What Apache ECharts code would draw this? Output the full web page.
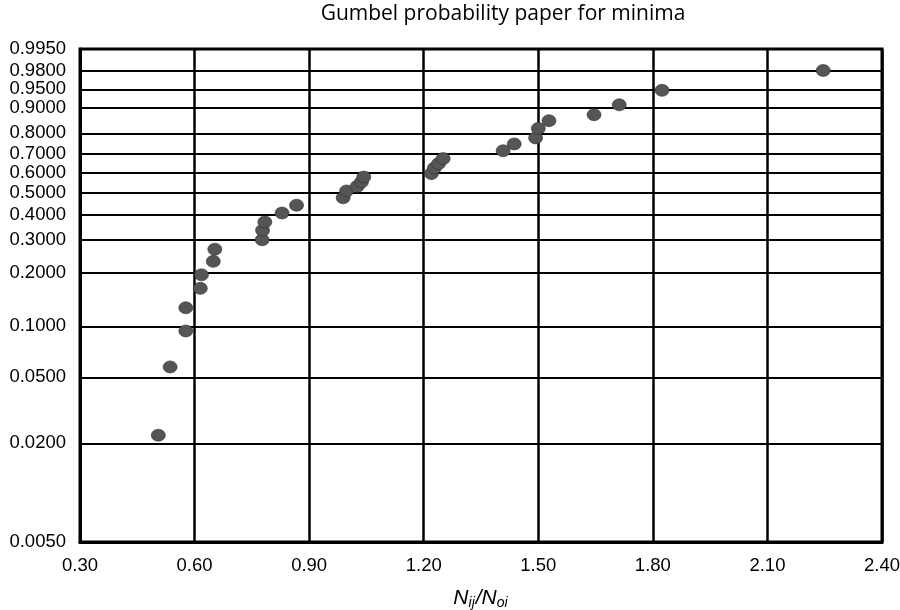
<!DOCTYPE html>
<html>
<head>
<meta charset="utf-8">
<script src="https://cdn.jsdelivr.net/npm/echarts@6/dist/echarts.min.js"></script>
<style>
  html, body { margin: 0; padding: 0; background: #ffffff; }
  #chart { width: 900px; height: 610px; }
</style>
</head>
<body>
<div id="chart"></div>
<script>
// Cumulative probabilities ruled on the probability paper
const probTicks = [0.005, 0.02, 0.05, 0.1, 0.2, 0.3, 0.4, 0.5, 0.6, 0.7, 0.8, 0.9, 0.95, 0.98, 0.995];

// Horizontal scale of the ratio N_ij/N_oi
const ratioMin = 0.3;
const ratioMax = 2.4;
const ratioStep = 0.3;

// Observed ratios and their plotting positions (cumulative probability)
const ratio = [0.505, 0.536, 0.577, 0.577, 0.615, 0.618, 0.649, 0.653,
               0.777, 0.778, 0.784, 0.829, 0.867,
               0.989, 0.998, 1.026, 1.037, 1.043,
               1.220, 1.228, 1.239, 1.251,
               1.408, 1.437,
               1.493, 1.500, 1.528,
               1.646, 1.712, 1.824, 2.246];
const prob = [0.0224, 0.0577, 0.094, 0.128, 0.165, 0.196, 0.232, 0.269,
              0.301, 0.336, 0.369, 0.407, 0.442,
              0.477, 0.510, 0.533, 0.555, 0.580,
              0.598, 0.627, 0.650, 0.676,
              0.716, 0.750,
              0.779, 0.822, 0.854,
              0.877, 0.910, 0.948, 0.980];

// Gumbel distribution of minima: F = 1 - exp(-exp(y)), y is the reduced variate
function reduced(p) { return Math.log(-Math.log(1 - p)); }
function cumulative(y) { return 1 - Math.exp(-Math.exp(y)); }

const tickValues = probTicks.map(reduced);
const points = ratio.map((r, i) => [r, reduced(prob[i])]);

const chart = echarts.init(document.getElementById('chart'), null, { renderer: 'canvas' });

chart.setOption({
  backgroundColor: '#ffffff',
  animation: false,
  title: {
    text: 'Gumbel probability paper for minima',
    left: 503,
    top: 4,
    textAlign: 'center',
    padding: 0,
    textStyle: {
      fontFamily: 'Open Sans',
      fontSize: 21,
      fontWeight: 'normal',
      color: '#000000'
    }
  },
  grid: {
    left: 80,
    right: 18,
    top: 49,
    bottom: 68,
    containLabel: false,
    outerBoundsMode: 'none',
    show: true,
    borderColor: '#000000',
    borderWidth: 3,
    backgroundColor: 'transparent'
  },
  xAxis: {
    type: 'value',
    min: ratioMin,
    max: ratioMax,
    interval: ratioStep,
    name: '{n|N}{s|ij}{n|/N}{s|oi}',
    nameLocation: 'middle',
    nameGap: 44,
    nameTextStyle: {
      rich: {
        n: { fontFamily: 'Liberation Sans', fontStyle: 'italic', fontSize: 21, color: '#000', lineHeight: 24 },
        s: { fontFamily: 'Liberation Sans', fontStyle: 'italic', fontSize: 14, color: '#000', lineHeight: 24, verticalAlign: 'bottom', padding: [10, 1, 0, 0] }
      }
    },
    axisLine: { show: true, onZero: false, lineStyle: { color: '#000000', width: 3 } },
    axisTick: { show: false },
    axisLabel: {
      color: '#000000',
      fontFamily: 'Liberation Sans',
      fontSize: 18.5,
      margin: 14,
      formatter: v => v.toFixed(2)
    },
    splitLine: { show: true, lineStyle: { color: '#000000', width: 2.5 } }
  },
  yAxis: {
    type: 'value',
    min: tickValues[0],
    max: tickValues[tickValues.length - 1],
    axisLine: { show: true, onZero: false, lineStyle: { color: '#000000', width: 3 } },
    axisTick: { show: false, customValues: tickValues },
    axisLabel: {
      customValues: tickValues,
      color: '#000000',
      fontFamily: 'Liberation Sans',
      fontSize: 18.5,
      margin: 14,
      formatter: v => cumulative(v).toFixed(4)
    },
    splitLine: { show: true, lineStyle: { color: '#000000', width: 2 } }
  },
  series: [{
    type: 'scatter',
    data: points,
    symbol: 'circle',
    symbolSize: [14, 12],
    itemStyle: {
      color: '#555555',
      borderColor: '#2e2e2e',
      borderWidth: 0.6,
      opacity: 1
    },
    z: 5
  }]
});
</script>
</body>
</html>
